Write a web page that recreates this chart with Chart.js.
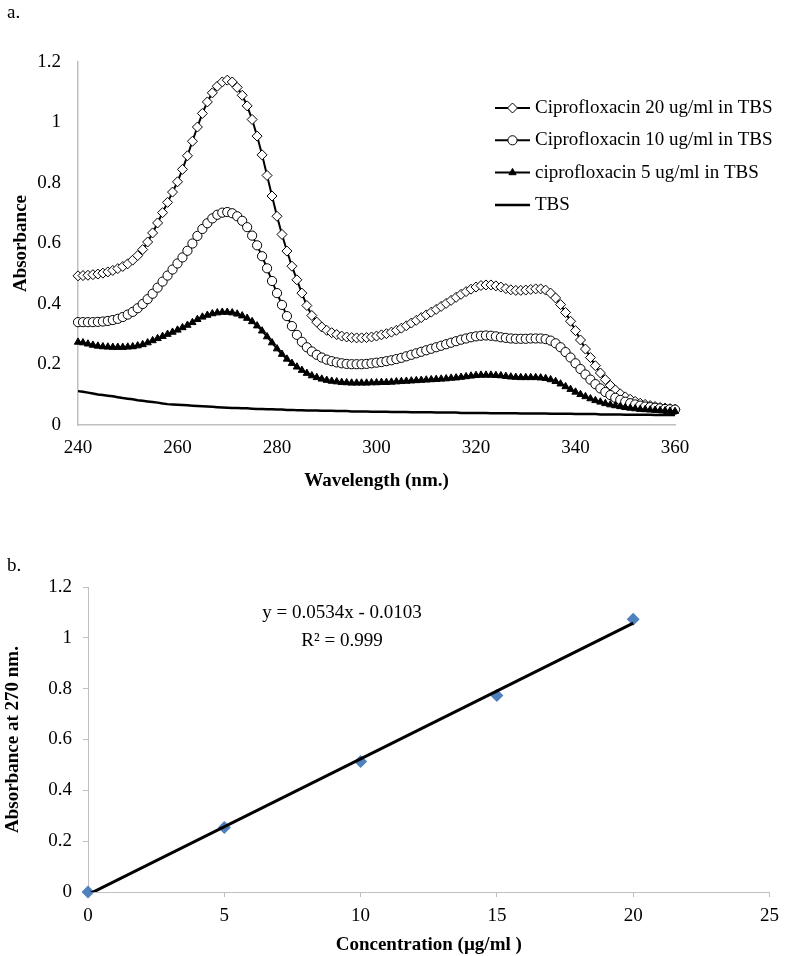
<!DOCTYPE html>
<html>
<head>
<meta charset="utf-8">
<script src="https://cdn.jsdelivr.net/npm/chart.js@4.4.0/dist/chart.umd.min.js"></script>
<style>
  body { margin: 0; background: #fff; width: 787px; height: 956px; position: relative; overflow: hidden; font-family: "Liberation Serif", serif; }
  canvas { position: absolute; left: 0; }
  #chartA { top: 0; }
  #chartB { top: 500px; }
  .lbl { position: absolute; font-size: 19px; color: #000; line-height: 1; }
</style>
</head>
<body>
<canvas id="chartA" width="787" height="500"></canvas>
<canvas id="chartB" width="787" height="456"></canvas>
<div class="lbl" style="left:7px;top:2px">a.</div>
<div class="lbl" style="left:7px;top:555px">b.</div>
<div class="lbl" id="eq" style="left:242px;top:598px;width:200px;text-align:center;line-height:28px"></div>
<script>
// ---- panel a: absorption spectra ----
var wavelengths = [
  240, 241, 242, 243, 244, 245, 246, 247, 248, 249,
  250, 251, 252, 253, 254, 255, 256, 257, 258, 259,
  260, 261, 262, 263, 264, 265, 266, 267, 268, 269,
  270, 271, 272, 273, 274, 275, 276, 277, 278, 279,
  280, 281, 282, 283, 284, 285, 286, 287, 288, 289,
  290, 291, 292, 293, 294, 295, 296, 297, 298, 299,
  300, 301, 302, 303, 304, 305, 306, 307, 308, 309,
  310, 311, 312, 313, 314, 315, 316, 317, 318, 319,
  320, 321, 322, 323, 324, 325, 326, 327, 328, 329,
  330, 331, 332, 333, 334, 335, 336, 337, 338, 339,
  340, 341, 342, 343, 344, 345, 346, 347, 348, 349,
  350, 351, 352, 353, 354, 355, 356, 357, 358, 359,
  360
];

var cipro20 = [
  0.493, 0.494, 0.495, 0.497, 0.499, 0.502, 0.506, 0.511, 0.517, 0.524,
  0.533, 0.545, 0.560, 0.580, 0.605, 0.635, 0.668, 0.702, 0.736, 0.770,
  0.804, 0.845, 0.890, 0.938, 0.985, 1.030, 1.068, 1.098, 1.120, 1.134,
  1.140, 1.134, 1.116, 1.090, 1.055, 1.010, 0.955, 0.893, 0.825, 0.757,
  0.690, 0.630, 0.575, 0.525, 0.480, 0.436, 0.395, 0.362, 0.340, 0.324,
  0.313, 0.305, 0.299, 0.294, 0.291, 0.289, 0.288, 0.288, 0.289, 0.291,
  0.294, 0.298, 0.302, 0.307, 0.313, 0.320, 0.328, 0.337, 0.346, 0.355,
  0.364, 0.373, 0.382, 0.392, 0.402, 0.412, 0.422, 0.432, 0.441, 0.449,
  0.456, 0.461, 0.463, 0.463, 0.460, 0.456, 0.451, 0.447, 0.445, 0.445,
  0.446, 0.448, 0.450, 0.450, 0.446, 0.436, 0.420, 0.398, 0.372, 0.343,
  0.312, 0.281, 0.251, 0.223, 0.196, 0.172, 0.150, 0.131, 0.116, 0.103,
  0.093, 0.085, 0.078, 0.072, 0.068, 0.064, 0.061, 0.058, 0.056, 0.054,
  0.052
];

var cipro10 = [
  0.340, 0.340, 0.340, 0.340, 0.341, 0.342, 0.344, 0.347, 0.351, 0.357,
  0.365, 0.374, 0.386, 0.400, 0.416, 0.434, 0.454, 0.474, 0.494, 0.514,
  0.534, 0.554, 0.576, 0.600, 0.625, 0.648, 0.667, 0.683, 0.695, 0.702,
  0.704, 0.700, 0.690, 0.675, 0.654, 0.626, 0.594, 0.558, 0.518, 0.476,
  0.436, 0.397, 0.360, 0.327, 0.298, 0.275, 0.257, 0.243, 0.232, 0.223,
  0.216, 0.211, 0.207, 0.204, 0.202, 0.201, 0.201, 0.201, 0.202, 0.204,
  0.206, 0.208, 0.211, 0.214, 0.218, 0.222, 0.227, 0.232, 0.237, 0.242,
  0.247, 0.252, 0.257, 0.262, 0.267, 0.272, 0.277, 0.282, 0.286, 0.290,
  0.293, 0.295, 0.296, 0.295, 0.293, 0.290, 0.288, 0.286, 0.285, 0.285,
  0.285, 0.286, 0.286, 0.286, 0.284, 0.279, 0.270, 0.257, 0.241, 0.223,
  0.204, 0.185, 0.167, 0.150, 0.135, 0.121, 0.109, 0.099, 0.090, 0.083,
  0.077, 0.072, 0.068, 0.064, 0.061, 0.059, 0.057, 0.055, 0.053, 0.052,
  0.051
];

var cipro5 = [
  0.274, 0.272, 0.268, 0.264, 0.261, 0.259, 0.258, 0.257, 0.257, 0.257,
  0.258, 0.259, 0.262, 0.266, 0.272, 0.279, 0.286, 0.293, 0.300, 0.307,
  0.314, 0.322, 0.330, 0.339, 0.349, 0.357, 0.363, 0.368, 0.371, 0.373,
  0.373, 0.371, 0.367, 0.361, 0.353, 0.342, 0.328, 0.311, 0.292, 0.272,
  0.252, 0.234, 0.218, 0.204, 0.192, 0.181, 0.171, 0.163, 0.157, 0.152,
  0.148, 0.145, 0.143, 0.141, 0.140, 0.139, 0.139, 0.139, 0.139, 0.140,
  0.140, 0.141, 0.141, 0.142, 0.143, 0.144, 0.145, 0.146, 0.147, 0.148,
  0.149, 0.150, 0.151, 0.152, 0.153, 0.155, 0.156, 0.158, 0.160, 0.162,
  0.164, 0.165, 0.165, 0.165, 0.164, 0.163, 0.161, 0.159, 0.158, 0.157,
  0.157, 0.157, 0.157, 0.156, 0.154, 0.150, 0.144, 0.136, 0.127, 0.118,
  0.109, 0.101, 0.094, 0.087, 0.081, 0.076, 0.071, 0.067, 0.064, 0.061,
  0.058, 0.056, 0.054, 0.052, 0.051, 0.050, 0.049, 0.048, 0.047, 0.046,
  0.045
];

var tbs = [
  0.112, 0.110, 0.107, 0.104, 0.101, 0.099, 0.097, 0.095, 0.092, 0.089,
  0.087, 0.085, 0.082, 0.080, 0.078, 0.076, 0.074, 0.071, 0.069, 0.068,
  0.067, 0.066, 0.065, 0.064, 0.063, 0.062, 0.061, 0.060, 0.059, 0.058,
  0.057, 0.056, 0.056, 0.055, 0.055, 0.054, 0.053, 0.053, 0.052, 0.052,
  0.051, 0.051, 0.050, 0.050, 0.049, 0.049, 0.048, 0.048, 0.048, 0.047,
  0.047, 0.047, 0.046, 0.046, 0.046, 0.045, 0.045, 0.045, 0.045, 0.044,
  0.044, 0.044, 0.044, 0.043, 0.043, 0.043, 0.043, 0.042, 0.042, 0.042,
  0.042, 0.042, 0.041, 0.041, 0.041, 0.041, 0.041, 0.040, 0.040, 0.040,
  0.040, 0.040, 0.040, 0.039, 0.039, 0.039, 0.039, 0.039, 0.039, 0.038,
  0.038, 0.038, 0.038, 0.038, 0.038, 0.037, 0.037, 0.037, 0.037, 0.037,
  0.036, 0.036, 0.036, 0.036, 0.036, 0.035, 0.035, 0.035, 0.035, 0.035,
  0.034, 0.034, 0.034, 0.034, 0.034, 0.034, 0.033, 0.033, 0.033, 0.033,
  0.033
];

// ---- panel b: calibration at 270 nm ----
var concentrations = [0, 5, 10, 15, 20];
var abs270 = [0, 0.254, 0.513, 0.773, 1.073];
var trendSlope = 0.0534;
var trendIntercept = -0.0103;
var rSquared = 0.999;

var FONT = '"Liberation Serif", serif';
Chart.defaults.font.family = FONT;
Chart.defaults.color = '#000';

function pairs(xs, ys) {
  return xs.map(function (x, i) { return {x: x, y: ys[i]}; });
}

function oneDecimal(v) {
  return String(+v.toFixed(1));
}

// legend drawn over the plot, where Excel placed it
var sideLegend = {
  id: 'sideLegend',
  afterDraw: function (chart) {
    var ctx = chart.ctx;
    ctx.save();
    ctx.font = '19px ' + FONT;
    ctx.textBaseline = 'middle';
    chart.data.datasets.forEach(function (ds, i) {
      var y = 108 + i * 32.3;
      ctx.strokeStyle = '#000';
      ctx.lineWidth = ds.borderWidth;
      ctx.beginPath();
      ctx.moveTo(495, y);
      ctx.lineTo(530, y);
      ctx.stroke();
      if (ds.pointRadius > 0) {
        ctx.fillStyle = ds.pointBackgroundColor;
        ctx.strokeStyle = ds.pointBorderColor;
        ctx.lineWidth = ds.pointBorderWidth;
        Chart.helpers.drawPoint(ctx, {
          pointStyle: ds.pointStyle,
          radius: ds.pointRadius,
          borderWidth: ds.pointBorderWidth,
          rotation: 0
        }, 512.5, y);
      }
      ctx.fillStyle = '#000';
      ctx.fillText(ds.label, 535, y);
    });
    ctx.restore();
  }
};

new Chart(document.getElementById('chartA'), {
  type: 'line',
  data: {
    datasets: [
      {
        label: 'Ciprofloxacin 20 ug/ml in TBS',
        data: pairs(wavelengths, cipro20),
        borderColor: '#000', borderWidth: 2,
        pointStyle: 'rectRot', pointRadius: 5,
        pointBackgroundColor: '#fff', pointBorderColor: '#000', pointBorderWidth: 1,
        clip: false, order: 3
      },
      {
        label: 'Ciprofloxacin 10 ug/ml in TBS',
        data: pairs(wavelengths, cipro10),
        borderColor: '#000', borderWidth: 2,
        pointStyle: 'circle', pointRadius: 4.6,
        pointBackgroundColor: '#fff', pointBorderColor: '#000', pointBorderWidth: 1,
        clip: false, order: 2
      },
      {
        label: 'ciprofloxacin 5 ug/ml in TBS',
        data: pairs(wavelengths, cipro5),
        borderColor: '#000', borderWidth: 2,
        pointStyle: 'triangle', pointRadius: 4.2,
        pointBackgroundColor: '#000', pointBorderColor: '#000', pointBorderWidth: 1,
        clip: false, order: 1
      },
      {
        label: 'TBS',
        data: pairs(wavelengths, tbs),
        borderColor: '#000', borderWidth: 2.5,
        pointRadius: 0,
        clip: false, order: 0
      }
    ]
  },
  options: {
    responsive: false,
    animation: false,
    events: [],
    layout: {padding: {top: 62, right: 112, left: 0, bottom: 0}},
    plugins: {legend: {display: false}, tooltip: {enabled: false}},
    scales: {
      x: {
        type: 'linear', min: 240, max: 360,
        ticks: {stepSize: 20, padding: 12, font: {size: 19}},
        grid: {display: false, drawTicks: false},
        border: {color: '#bfbfbf', width: 1.5},
        title: {display: true, text: 'Wavelength (nm.)', font: {size: 19, weight: 'bold'}, padding: {top: 0, bottom: 8}},
        afterFit: function (s) { s.height = 75; }
      },
      y: {
        min: 0, max: 1.2,
        ticks: {stepSize: 0.2, padding: 17, font: {size: 19}, callback: oneDecimal},
        grid: {display: false, drawTicks: false},
        border: {color: '#bfbfbf', width: 1.5},
        title: {display: true, text: 'Absorbance', font: {size: 19, weight: 'bold'}, padding: {top: 10, bottom: 0}},
        afterFit: function (s) { s.width = 78; }
      }
    }
  },
  plugins: [sideLegend]
});

// trendline ends, from the fitted equation shown on the chart
var trendX = [concentrations[0], concentrations[concentrations.length - 1]];
var trendY = trendX.map(function (x) { return trendSlope * x + trendIntercept; });

document.getElementById('eq').innerHTML =
  'y = ' + trendSlope + 'x - ' + Math.abs(trendIntercept) + '<br>R² = ' + rSquared;

new Chart(document.getElementById('chartB'), {
  type: 'scatter',
  data: {
    datasets: [
      {
        type: 'line',
        label: 'Linear fit',
        data: pairs(trendX, trendY),
        borderColor: '#000', borderWidth: 3,
        pointRadius: 0,
        clip: 0, order: 0
      },
      {
        label: 'Absorbance at 270 nm',
        data: pairs(concentrations, abs270),
        pointStyle: 'rectRot', pointRadius: 6.5,
        pointBackgroundColor: '#4f81bd', pointBorderColor: '#4f81bd', pointBorderWidth: 0,
        clip: false, order: 1
      }
    ]
  },
  options: {
    responsive: false,
    animation: false,
    events: [],
    layout: {padding: {top: 87, right: 10, left: 0, bottom: 0}},
    plugins: {legend: {display: false}, tooltip: {enabled: false}},
    scales: {
      x: {
        type: 'linear', min: 0, max: 25,
        ticks: {stepSize: 5, padding: 8, font: {size: 19}},
        grid: {drawOnChartArea: false, drawTicks: true, tickLength: 5, color: '#bfbfbf'},
        border: {color: '#bfbfbf', width: 1},
        title: {display: true, text: 'Concentration (µg/ml )', font: {size: 19, weight: 'bold'}, padding: {top: 0, bottom: 0}},
        afterFit: function (s) { s.height = 64; }
      },
      y: {
        min: 0, max: 1.2,
        ticks: {stepSize: 0.2, padding: 11, font: {size: 19}, callback: oneDecimal},
        grid: {drawOnChartArea: false, drawTicks: true, tickLength: 5, color: '#bfbfbf'},
        border: {color: '#bfbfbf', width: 1},
        title: {display: true, text: 'Absorbance at 270 nm.', font: {size: 19, weight: 'bold'}, padding: {top: 2, bottom: 0}},
        afterFit: function (s) { s.width = 88; }
      }
    }
  }
});
</script>
</body>
</html>
